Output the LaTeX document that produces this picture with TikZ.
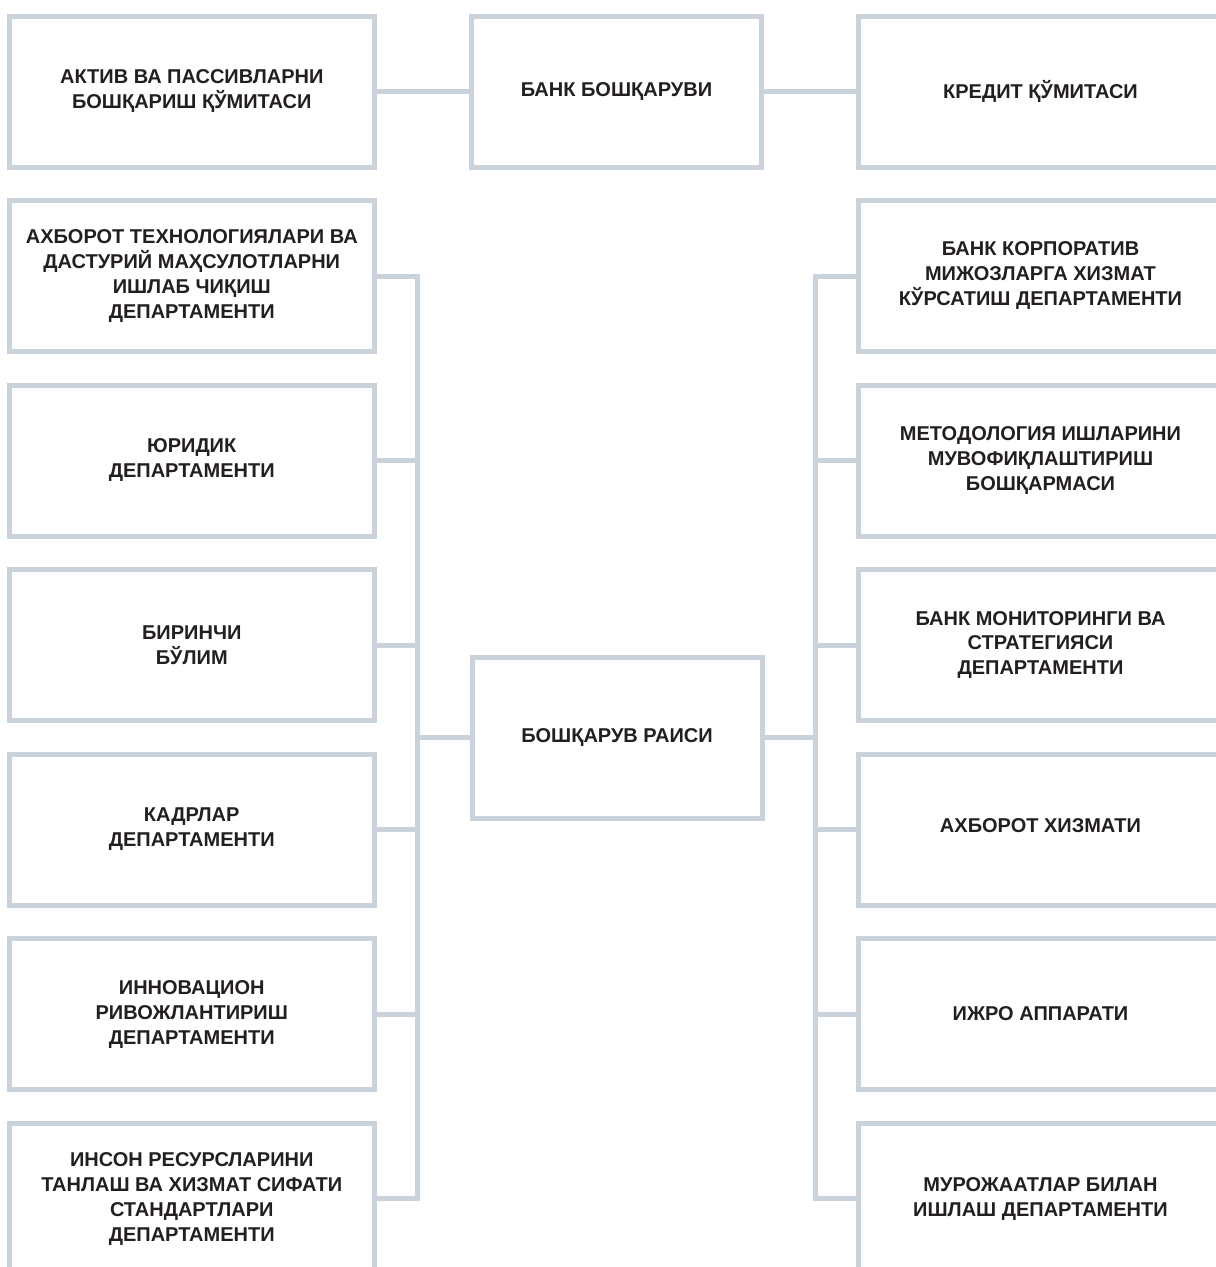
\documentclass[tikz,border=0pt]{standalone}
\usepackage{fontspec}
\setmainfont{Liberation Sans}
\definecolor{ln}{HTML}{CAD3DC}
\definecolor{tx}{HTML}{231F20}
\begin{document}
\begin{tikzpicture}[x=1pt,y=1pt,
  box/.style={draw=ln, line width=5pt, outer sep=0pt, inner sep=0pt, fill=white,
    minimum width=364.5pt, minimum height=151pt, align=center, text=tx,
    font=\fontsize{20}{25}\selectfont\bfseries},
  mbox/.style={box, minimum width=290pt},
  conn/.style={draw=ln, line width=5pt, line join=miter}]
\useasboundingbox (0,0) rectangle (1216,-1267);
\clip (0,0) rectangle (1216,-1267);
\fill[white] (0,0) rectangle (1216,-1267);
\coordinate (sL) at (417.5,0);
\coordinate (sR) at (815,0);
% top row
\node[box] (A) at (191.75,-91.5) {АКТИВ ВА ПАССИВЛАРНИ\\БОШҚАРИШ ҚЎМИТАСИ};
\node[mbox] (B) at (616.5,-91.5) {\raisebox{-1.5pt}{БАНК БОШҚАРУВИ}};
\node[box] (C) at (1040.5,-91.5) {\raisebox{-1pt}{КРЕДИТ ҚЎМИТАСИ}};
% left column
\node[box] (L1) at (191.75,-276) {АХБОРОТ ТЕХНОЛОГИЯЛАРИ ВА\\ДАСТУРИЙ МАҲСУЛОТЛАРНИ\\ИШЛАБ ЧИҚИШ\\ДЕПАРТАМЕНТИ};
\node[box] (L2) at (191.75,-460.5) {ЮРИДИК\\ДЕПАРТАМЕНТИ};
\node[box] (L3) at (191.75,-645) {БИРИНЧИ\\БЎЛИМ};
\node[box] (L4) at (191.75,-829.5) {КАДРЛАР\\ДЕПАРТАМЕНТИ};
\node[box] (L5) at (191.75,-1014) {ИННОВАЦИОН\\РИВОЖЛАНТИРИШ\\ДЕПАРТАМЕНТИ};
\node[box] (L6) at (191.75,-1198.5) {ИНСОН РЕСУРСЛАРИНИ\\ТАНЛАШ ВА ХИЗМАТ СИФАТИ\\СТАНДАРТЛАРИ\\ДЕПАРТАМЕНТИ};
% right column
\node[box] (R1) at (1040.5,-276) {БАНК КОРПОРАТИВ\\МИЖОЗЛАРГА ХИЗМАТ\\КЎРСАТИШ ДЕПАРТАМЕНТИ};
\node[box] (R2) at (1040.5,-460.5) {МЕТОДОЛОГИЯ ИШЛАРИНИ\\МУВОФИҚЛАШТИРИШ\\БОШҚАРМАСИ};
\node[box] (R3) at (1040.5,-645) {БАНК МОНИТОРИНГИ ВА\\СТРАТЕГИЯСИ\\ДЕПАРТАМЕНТИ};
\node[box] (R4) at (1040.5,-829.5) {\raisebox{7pt}{АХБОРОТ ХИЗМАТИ}};
\node[box] (R5) at (1040.5,-1014) {ИЖРО АППАРАТИ};
\node[box] (R6) at (1040.5,-1198.5) {МУРОЖААТЛАР БИЛАН\\ИШЛАШ ДЕПАРТАМЕНТИ};
% chairman
\node[mbox, minimum height=161pt] (P) at (617,-737.5) {\raisebox{-1.5pt}{БОШҚАРУВ РАИСИ}};
% connectors
\draw[conn] (A.east) -- (B.west);
\draw[conn] (B.east) -- (C.west);
\draw[conn] (L1.east) -- (L1.east -| sL) -- (L6.east -| sL) -- (L6.east);
\foreach \n in {L2,L3,L4,L5} \draw[conn] (\n.east) -- (\n.east -| sL);
\draw[conn] (P.west) -- (P.west -| sL);
\draw[conn] (R1.west) -- (R1.west -| sR) -- (R6.west -| sR) -- (R6.west);
\foreach \n in {R2,R3,R4,R5} \draw[conn] (\n.west) -- (\n.west -| sR);
\draw[conn] (P.east) -- (P.east -| sR);
\end{tikzpicture}
\end{document}
